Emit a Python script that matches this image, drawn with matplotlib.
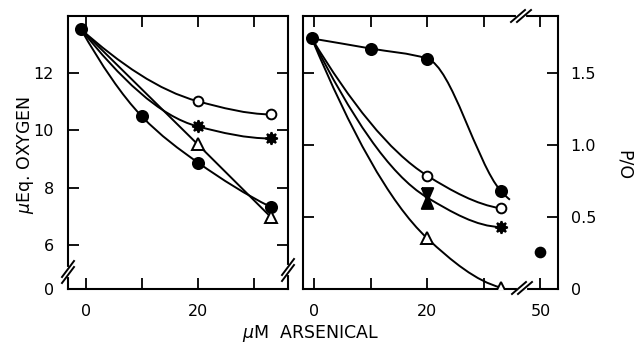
import matplotlib
matplotlib.use('Agg')
import matplotlib.pyplot as plt
import numpy as np
from matplotlib.path import Path
from matplotlib.patches import PathPatch
from matplotlib.lines import Line2D
from matplotlib.transforms import IdentityTransform

# left panel: uEq. oxygen against uM arsenical
oxy_fcirc_x = [-0.9, 10, 20, 33]
oxy_fcirc_y = [13.54, 10.49, 8.88, 7.33]
oxy_ocirc_x = [-0.9, 20, 33]
oxy_ocirc_y = [13.54, 11.02, 10.56]
oxy_star_x = [-0.9, 20, 33]
oxy_star_y = [13.54, 10.14, 9.72]
oxy_tri_x = [-0.9, 20, 33]
oxy_tri_y = [13.54, 9.51, 6.98]

# right panel: P/O against uM arsenical
po_fcirc_x = [-0.4, 10, 20, 33]
po_fcirc_y = [1.74, 1.67, 1.60, 0.68]
po_fcirc_tail = (34.6, 0.62)
po_ocirc_x = [-0.4, 20, 33]
po_ocirc_y = [1.74, 0.787, 0.56]
po_star_x = [-0.4, 20, 33]
po_star_y = [1.74, 0.635, 0.43]
po_tri_x = [-0.4, 20, 33]
po_tri_y = [1.74, 0.352, 0.01]
po_single_x = [50]
po_single_y = [0.255]

oxy_yticks = [6, 8, 10, 12]
po_yticks = [0, 0.5, 1.0, 1.5]
po_ylabels = ['0', '0.5', '1.0', '1.5']

OXY_BOTTOM = 4.46   # broken axis: bottom spine is labelled 0
X_BREAK = 40        # 50 uM drawn at 40 on the broken x axis

plt.rcParams['font.family'] = ['DejaVu Sans']
FS = 11.5
LFS = 12.5
LW = 1.4

fig = plt.figure(figsize=(6.41, 3.48), dpi=100)
axl = fig.add_axes([68/641, 59/348, 220/641, 273/348])
axr = fig.add_axes([303/641, 59/348, 255/641, 273/348])


def squeeze(xs):
    return [x if x < X_BREAK else x - 10 for x in xs]


def pchip_slopes(x, y):
    h = np.diff(x)
    d = np.diff(y) / h
    n = len(x)
    m = np.zeros(n)
    for k in range(1, n - 1):
        if d[k-1] * d[k] > 0:
            w1, w2 = 2*h[k] + h[k-1], h[k] + 2*h[k-1]
            m[k] = (w1 + w2) / (w1 / d[k-1] + w2 / d[k])
    if n == 2:
        m[0] = m[1] = d[0]
        return m
    for i0, hh0, hh1, dd0, dd1 in ((0, h[0], h[1], d[0], d[1]),
                                   (n-1, h[-1], h[-2], d[-1], d[-2])):
        e = ((2*hh0 + hh1)*dd0 - hh0*dd1) / (hh0 + hh1)
        if np.sign(e) != np.sign(dd0):
            e = 0
        elif np.sign(dd0) != np.sign(dd1) and abs(e) > 3*abs(dd0):
            e = 3*dd0
        m[i0] = e
    return m


def smooth(ax, xs, ys):
    x, y = np.asarray(xs, float), np.asarray(ys, float)
    m = pchip_slopes(x, y)
    verts, codes = [(x[0], y[0])], [Path.MOVETO]
    for k in range(len(x) - 1):
        h = x[k+1] - x[k]
        verts += [(x[k] + h/3, y[k] + m[k]*h/3), (x[k+1] - h/3, y[k+1] - m[k+1]*h/3), (x[k+1], y[k+1])]
        codes += [Path.CURVE4] * 3
    ax.add_patch(PathPatch(Path(verts, codes), fill=False, lw=LW, color='k', zorder=2))


def marks(ax, xs, ys, marker, fill, ms=7.5):
    ax.plot(xs, ys, ls='none', marker=marker, ms=ms, mfc=fill, mec='k', mew=1.4, zorder=4)


hourglass = [(-0.55, 1), (0.55, 1), (0.12, 0), (0.55, -1), (-0.55, -1), (-0.12, 0), (-0.55, 1)]
star = (8, 1, 0)

# left panel
smooth(axl, oxy_fcirc_x, oxy_fcirc_y)
smooth(axl, oxy_ocirc_x, oxy_ocirc_y)
smooth(axl, oxy_star_x, oxy_star_y)
axl.plot(oxy_tri_x, oxy_tri_y, color='k', lw=LW, zorder=2)
marks(axl, oxy_fcirc_x, oxy_fcirc_y, 'o', 'k', 8)
marks(axl, oxy_ocirc_x[1:], oxy_ocirc_y[1:], 'o', 'white', 7)
marks(axl, oxy_star_x[1:], oxy_star_y[1:], star, 'k', 9)
marks(axl, oxy_tri_x[1:], oxy_tri_y[1:], '^', 'white', 8)
axl.set_xlim(-3.2, 36.1)
axl.set_ylim(OXY_BOTTOM, 14.0)
axl.set_xticks([0, 10, 20, 30], ['0', '', '20', ''])
axl.set_yticks([OXY_BOTTOM] + oxy_yticks, ['0'] + [str(t) for t in oxy_yticks])

# right panel
smooth(axr, po_fcirc_x + [po_fcirc_tail[0]], po_fcirc_y + [po_fcirc_tail[1]])
smooth(axr, po_ocirc_x, po_ocirc_y)
smooth(axr, po_star_x, po_star_y)
smooth(axr, po_tri_x, po_tri_y)
marks(axr, po_fcirc_x, po_fcirc_y, 'o', 'k', 8)
marks(axr, po_ocirc_x[1:], po_ocirc_y[1:], 'o', 'white', 7)
marks(axr, po_star_x[1:2], po_star_y[1:2], hourglass, 'k', 15)
marks(axr, po_star_x[2:], po_star_y[2:], star, 'k', 9)
marks(axr, po_tri_x[1:], po_tri_y[1:], '^', 'white', 8)
marks(axr, squeeze(po_single_x), po_single_y, 'o', 'k', 7)
axr.set_xlim(-1.95, 43.1)
axr.set_ylim(0, 1.896)
axr.set_xticks([0, 10, 20, 30, X_BREAK], ['0', '', '20', '', '50'])
axr.set_yticks(po_yticks, po_ylabels)

for ax in (axl, axr):
    for s in ax.spines.values():
        s.set_linewidth(1.5)
    ax.tick_params(direction='in', length=8, width=1.3, top=True, right=True,
                   labelsize=FS, colors='k')
    ax.tick_params(axis='x', pad=11)
axl.tick_params(axis='y', pad=10)
axr.tick_params(axis='y', labelleft=False, labelright=True, pad=9)

fig.text(25/641, 1 - 155/348, r'$\mu$Eq. OXYGEN', rotation=90, ha='center', va='center', fontsize=LFS)
fig.text(310/641, 1 - 333/348, r'$\mu$M  ARSENICAL', ha='center', va='center', fontsize=LFS)
fig.text(624/641, 1 - 165/348, 'P/O', rotation=-90, ha='center', va='center', fontsize=LFS)


# axis-break slashes, given in image pixels
def brk(cx, cy, dx, dy, sep, along_x):
    H = 348
    offs = [(-sep/2, 0), (sep/2, 0)] if along_x else [(0, -sep/2), (0, sep/2)]
    fig.add_artist(Line2D([cx + offs[0][0], cx + offs[1][0]], [H - cy - offs[0][1], H - cy - offs[1][1]],
                          transform=IdentityTransform(), color='white', lw=3, zorder=10))
    for ox, oy in offs:
        fig.add_artist(Line2D([cx + ox - dx, cx + ox + dx], [H - cy - oy - dy, H - cy - oy + dy],
                              transform=IdentityTransform(), color='k', lw=1.4, zorder=11))


brk(68, 272, 6, 8, 6, False)
brk(288, 270, 6, 8, 6, False)
brk(522, 288, 7, 6, 6, True)
brk(521, 16, 7, 6, 6, True)

fig.savefig('out.png', dpi=100)
